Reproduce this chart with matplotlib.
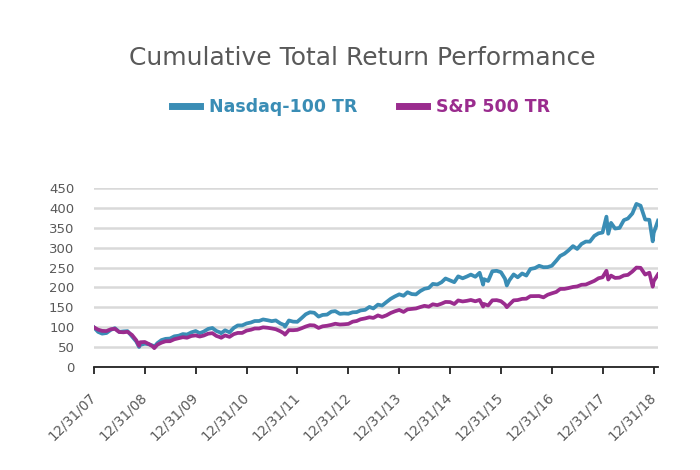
import matplotlib
matplotlib.use("Agg")
import matplotlib.pyplot as plt
from matplotlib.lines import Line2D
import pandas as pd

# month-end values (plus a few intra-month lows), 12/31/07 = 100
dates = [
    "2007-12-31",
    "2008-01-31", "2008-02-29", "2008-03-31", "2008-04-30", "2008-05-30", "2008-06-30",
    "2008-07-31", "2008-08-29", "2008-09-30", "2008-10-31", "2008-11-20", "2008-11-28", "2008-12-31",
    "2009-01-30", "2009-02-27", "2009-03-09", "2009-03-31", "2009-04-30", "2009-05-29", "2009-06-30",
    "2009-07-31", "2009-08-31", "2009-09-30", "2009-10-30", "2009-11-30", "2009-12-31",
    "2010-01-29", "2010-02-26", "2010-03-31", "2010-04-30", "2010-05-28", "2010-06-30",
    "2010-07-02", "2010-07-30", "2010-08-31", "2010-09-30", "2010-10-29", "2010-11-30", "2010-12-31",
    "2011-01-31", "2011-02-28", "2011-03-31", "2011-04-29", "2011-05-31", "2011-06-30",
    "2011-07-29", "2011-08-31", "2011-09-30", "2011-10-03", "2011-10-31", "2011-11-30", "2011-12-30",
    "2012-01-31", "2012-02-29", "2012-03-30", "2012-04-30", "2012-05-31", "2012-06-29",
    "2012-07-31", "2012-08-31", "2012-09-28", "2012-10-31", "2012-11-30", "2012-12-31",
    "2013-01-31", "2013-02-28", "2013-03-28", "2013-04-30", "2013-05-31", "2013-06-28",
    "2013-07-31", "2013-08-30", "2013-09-30", "2013-10-31", "2013-11-29", "2013-12-31",
    "2014-01-31", "2014-02-28", "2014-03-31", "2014-04-30", "2014-05-30", "2014-06-30",
    "2014-07-31", "2014-08-29", "2014-09-30", "2014-10-31", "2014-11-28", "2014-12-31",
    "2015-01-30", "2015-02-27", "2015-03-31", "2015-04-30", "2015-05-29", "2015-06-30",
    "2015-07-31", "2015-08-25", "2015-08-31", "2015-09-30", "2015-10-30", "2015-11-30", "2015-12-31",
    "2016-01-29", "2016-02-11", "2016-02-29", "2016-03-31", "2016-04-29", "2016-05-31", "2016-06-30",
    "2016-07-29", "2016-08-31", "2016-09-30", "2016-10-31", "2016-11-30", "2016-12-30",
    "2017-01-31", "2017-02-28", "2017-03-31", "2017-04-28", "2017-05-31", "2017-06-30",
    "2017-07-31", "2017-08-31", "2017-09-29", "2017-10-31", "2017-11-30", "2017-12-29",
    "2018-01-26", "2018-02-08", "2018-02-28", "2018-03-29", "2018-04-30", "2018-05-31", "2018-06-29",
    "2018-07-31", "2018-08-29", "2018-09-28", "2018-10-31", "2018-11-30", "2018-12-24", "2018-12-31",
    "2019-01-31",
]

nasdaq_tr = [
    100.0,
    88.4, 84.0, 85.6, 93.4, 97.8, 88.5,
    89.7, 90.4, 76.9, 64.2, 50.5, 55.7, 58.7,
    57.2, 53.8, 50.6, 60.0, 67.9, 70.9, 71.7,
    77.3, 78.8, 82.9, 81.8, 87.2, 90.6,
    85.2, 89.0, 95.9, 98.2, 90.8, 86.3,
    85.0, 92.4, 87.3, 98.3, 104.6, 104.7, 109.6,
    112.0, 115.7, 115.8, 119.7, 117.7, 115.4,
    117.2, 109.6, 105.2, 101.5, 117.1, 114.2, 113.7,
    123.4, 132.7, 137.7, 136.5, 126.8, 131.0,
    131.9, 139.3, 140.6, 133.7, 134.7, 134.0,
    137.7, 138.1, 142.3, 143.8, 151.1, 147.3,
    156.9, 154.6, 163.3, 171.6, 177.4, 182.8,
    179.2, 188.0, 183.4, 182.6, 190.8, 196.8,
    198.9, 209.0, 207.5, 213.3, 222.6, 217.7,
    213.3, 228.0, 223.1, 227.5, 232.4, 226.9,
    237.0, 207.0, 221.0, 216.4, 240.8, 241.9, 238.4,
    221.9, 205.0, 218.0, 232.8, 225.6, 235.2, 230.0,
    246.5, 248.8, 254.5, 250.9, 251.2, 254.6,
    267.2, 279.2, 285.0, 293.0, 304.0, 296.9,
    309.4, 315.4, 315.2, 329.6, 336.1, 338.0,
    378.0, 335.0, 362.3, 348.1, 349.7, 369.2, 373.3,
    385.9, 410.0, 405.5, 370.8, 370.1, 316.0, 337.0,
    368.0,
]

sp500_tr = [
    100.0,
    94.0, 90.9, 90.5, 94.9, 96.2, 88.1,
    87.4, 88.6, 80.7, 67.2, 53.5, 62.4, 63.0,
    57.7, 51.6, 47.6, 56.1, 61.4, 64.8, 65.0,
    69.9, 72.4, 75.1, 73.7, 78.1, 79.6,
    76.7, 79.1, 83.9, 85.2, 78.4, 74.3,
    73.5, 79.5, 75.9, 82.7, 85.8, 85.8, 91.6,
    93.8, 97.0, 97.0, 99.9, 98.8, 97.1,
    95.1, 90.0, 83.7, 81.5, 92.8, 92.6, 93.5,
    97.7, 101.9, 105.3, 104.6, 98.3, 102.4,
    103.8, 106.1, 108.9, 106.9, 107.5, 108.5,
    114.1, 115.7, 120.0, 122.3, 125.2, 123.5,
    129.8, 126.0, 130.0, 136.0, 140.1, 143.6,
    138.6, 145.0, 146.2, 147.3, 150.7, 153.9,
    151.8, 157.8, 155.6, 159.4, 163.7, 163.3,
    158.4, 167.5, 164.9, 166.4, 168.6, 165.3,
    168.8, 152.0, 158.6, 154.7, 167.7, 168.2, 165.5,
    157.3, 150.5, 157.1, 167.7, 168.4, 171.4, 171.8,
    178.2, 178.5, 178.5, 175.2, 181.7, 185.3,
    188.8, 196.3, 196.5, 198.5, 201.3, 202.6,
    206.8, 207.4, 211.7, 216.6, 223.2, 225.7,
    242.0, 220.0, 229.8, 224.0, 224.8, 230.2, 231.6,
    240.2, 250.0, 249.4, 232.4, 237.1, 202.0, 215.7,
    233.0,
]

tick_dates = ["2007-12-31", "2008-12-31", "2009-12-31", "2010-12-31", "2011-12-31", "2012-12-31",
              "2013-12-31", "2014-12-31", "2015-12-31", "2016-12-31", "2017-12-31", "2018-12-31"]
tick_labels = ["12/31/07", "12/31/08", "12/31/09", "12/31/10", "12/31/11", "12/31/12",
               "12/31/13", "12/31/14", "12/31/15", "12/31/16", "12/31/17", "12/31/18"]

nasdaq_color = "#3A8DB5"
sp_color = "#9A2C8E"
text_color = "#595959"

x = pd.to_datetime(dates)
ticks = pd.to_datetime(tick_dates)

fig = plt.figure(figsize=(7, 4.7), dpi=100)
ax = fig.add_axes([0.134, 0.219, 0.806, 0.381])

ax.plot(x, sp500_tr, color=sp_color, linewidth=2.7, solid_joinstyle="round", zorder=3)
ax.plot(x, nasdaq_tr, color=nasdaq_color, linewidth=2.7, solid_joinstyle="round", zorder=2)

ax.set_ylim(0, 450)
ax.set_yticks(range(0, 451, 50))
ax.set_xlim(pd.Timestamp("2007-12-31"), pd.Timestamp("2019-01-31"))
ax.set_xticks(ticks)
ax.set_xticklabels(tick_labels, rotation=45, ha="right", va="center", rotation_mode="anchor")

ax.grid(axis="y", color="#D9D9D9", linewidth=1.8, zorder=0)
ax.set_axisbelow(True)
for s in ["top", "right", "left"]:
    ax.spines[s].set_visible(False)
ax.spines["bottom"].set_color("#222222")
ax.spines["bottom"].set_linewidth(1.3)
ax.spines["bottom"].set_zorder(4)

ax.tick_params(axis="y", length=0, labelsize=9.5, labelcolor=text_color, pad=14)
ax.tick_params(axis="x", length=5, width=1.3, color="#222222", labelsize=9.8,
               labelcolor=text_color, pad=15)

fig.text(0.517, 0.877, "Cumulative Total Return Performance", ha="center", va="center",
         fontsize=18, color=text_color)

handles = [Line2D([], [], color=nasdaq_color, linewidth=5),
           Line2D([], [], color=sp_color, linewidth=5)]
leg = fig.legend(handles, ["Nasdaq-100 TR", "S&P 500 TR"], loc="center",
                 bbox_to_anchor=(0.516, 0.772), ncol=2, frameon=False,
                 prop={"size": 12.5, "weight": "bold"}, handlelength=1.6,
                 handletextpad=0.55, columnspacing=2.4)
for t, c in zip(leg.get_texts(), [nasdaq_color, sp_color]):
    t.set_color(c)

fig.savefig("out.png", dpi=100)
